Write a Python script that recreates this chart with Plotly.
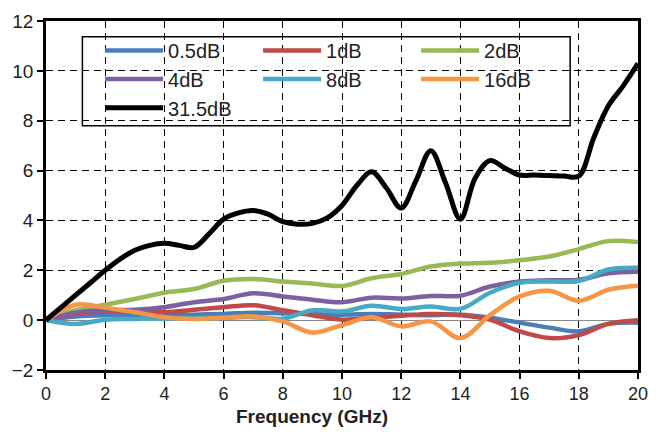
import plotly.graph_objects as go

# ---------------- data ----------------
freq = [0, 1, 2, 3, 4, 5, 6, 7, 8, 9, 10, 11, 12, 13, 14, 15, 16, 17, 18, 19, 20]

att_05 = [0, 0.15, 0.2, 0.2, 0.2, 0.22, 0.25, 0.3, 0.28, 0.25, 0.22, 0.25, 0.22, 0.2, 0.22, 0.1, -0.1, -0.3, -0.45, -0.15, -0.1]
att_1 = [0, 0.25, 0.35, 0.38, 0.32, 0.42, 0.52, 0.6, 0.4, 0.2, 0.02, 0.1, 0.18, 0.25, 0.2, 0.02, -0.45, -0.72, -0.6, -0.15, 0.0]
att_2 = [0, 0.4, 0.62, 0.85, 1.1, 1.25, 1.58, 1.65, 1.55, 1.47, 1.37, 1.68, 1.85, 2.15, 2.27, 2.3, 2.4, 2.55, 2.85, 3.17, 3.13]
att_4 = [0, 0.3, 0.4, 0.42, 0.52, 0.72, 0.85, 1.08, 0.95, 0.82, 0.72, 0.9, 0.87, 0.97, 0.98, 1.35, 1.55, 1.6, 1.62, 1.88, 1.94]
att_8 = [0, -0.15, 0.02, 0.05, 0.07, 0.08, 0.1, 0.12, 0.06, 0.4, 0.35, 0.58, 0.45, 0.55, 0.45, 1.1, 1.5, 1.55, 1.57, 2.03, 2.1]
att_16 = [0, 0.62, 0.5, 0.32, 0.12, 0.05, 0.1, 0.15, -0.05, -0.5, -0.2, 0.12, -0.25, -0.05, -0.72, 0.2, 0.95, 1.18, 0.78, 1.22, 1.38]

freq_fine = [0, 0.5, 1, 1.5, 2, 2.5, 3, 3.5, 4, 4.5, 5, 5.5, 6, 6.5, 7, 7.5, 8, 8.5, 9, 9.5,
             10, 10.5, 11, 11.5, 12, 12.5, 13, 13.5, 14, 14.5, 15, 15.5, 16, 16.5, 17, 17.5, 18, 18.5, 19, 19.5, 20]
att_315 = [0, 0.5, 1.0, 1.5, 2.0, 2.45, 2.8, 3.0, 3.08, 3.0, 2.92, 3.45, 4.05, 4.3, 4.4, 4.25, 3.95, 3.85, 3.88, 4.1,
           4.6, 5.4, 5.95, 5.3, 4.5, 5.6, 6.8, 5.5, 4.05, 5.7, 6.4, 6.1, 5.82, 5.82, 5.8, 5.78, 5.78, 7.3, 8.6, 9.4, 10.3]

# (name, x, y, colour, legend row)
series = [
    ("0.5dB", freq, att_05, "#4A7EBB", "legend"),
    ("1dB", freq, att_1, "#BE4B48", "legend"),
    ("2dB", freq, att_2, "#98B954", "legend"),
    ("4dB", freq, att_4, "#7D60A0", "legend2"),
    ("8dB", freq, att_8, "#46AAC5", "legend2"),
    ("16dB", freq, att_16, "#F59646", "legend2"),
    ("31.5dB", freq_fine, att_315, "#000000", "legend3"),
]

x_ticks = list(range(0, 21, 2))
y_ticks = list(range(-2, 13, 2))

fig = go.Figure()
for name, xs, ys, col, lg in series:
    fig.add_trace(go.Scatter(
        x=xs, y=ys, name=name, mode="lines", legend=lg,
        line=dict(color=col, width=5 if name == "31.5dB" else 4.5, shape="spline", smoothing=1.0),
    ))

FONT = "Liberation Sans, Arial, sans-serif"
W, H = 659, 432
L, R, T, B = 46, 11, 17, 62
pw, ph = W - L - R, H - T - B

def px_x(px):
    return (px - L) / pw

def px_y(py):
    return (H - B - py) / ph

axis_common = dict(
    showline=True, linecolor="black", linewidth=2.5, mirror=True,
    showgrid=True, gridcolor="black", gridwidth=1.3, griddash="7px,5px",
    ticks="outside", ticklen=6, tickwidth=1.5, tickcolor="black",
)

fig.update_xaxes(range=[0, 20], tickvals=x_ticks, zeroline=False,
                 ticklabelstandoff=0,
                 tickfont=dict(family=FONT, size=18, color="#222"), **axis_common)
fig.update_yaxes(range=[-2, 12], tickvals=y_ticks, zeroline=True,
                 zerolinecolor="#888", zerolinewidth=1,
                 tickfont=dict(family=FONT, size=19, color="#222"), **axis_common)

fig.add_shape(type="rect", xref="paper", yref="paper",
              x0=px_x(83), x1=px_x(579), y0=px_y(123), y1=px_y(33),
              line=dict(color="black", width=1.5), fillcolor="white", layer="below")

fig.add_annotation(text="<b>Frequency (GHz)</b>", xref="paper", yref="paper",
                   x=px_x(316), y=px_y(417), xanchor="center", yanchor="middle",
                   showarrow=False,
                   font=dict(family=FONT, size=19, color="#222"))

def legend_row(top_px):
    return dict(
        orientation="h", x=px_x(101), y=px_y(top_px), xanchor="left", yanchor="top",
        entrywidth=85, entrywidthmode="pixels", itemwidth=58,
        bgcolor="rgba(0,0,0,0)", borderwidth=0,
        font=dict(family=FONT, size=20, color="#222"),
        traceorder="normal",
    )

fig.update_layout(
    width=W, height=H,
    margin=dict(l=L, r=R, t=T, b=B),
    paper_bgcolor="white", plot_bgcolor="rgba(0,0,0,0)",
    showlegend=True,
    legend=legend_row(27),
    legend2=legend_row(56),
    legend3=legend_row(85),
)

fig.write_html("out.html")
